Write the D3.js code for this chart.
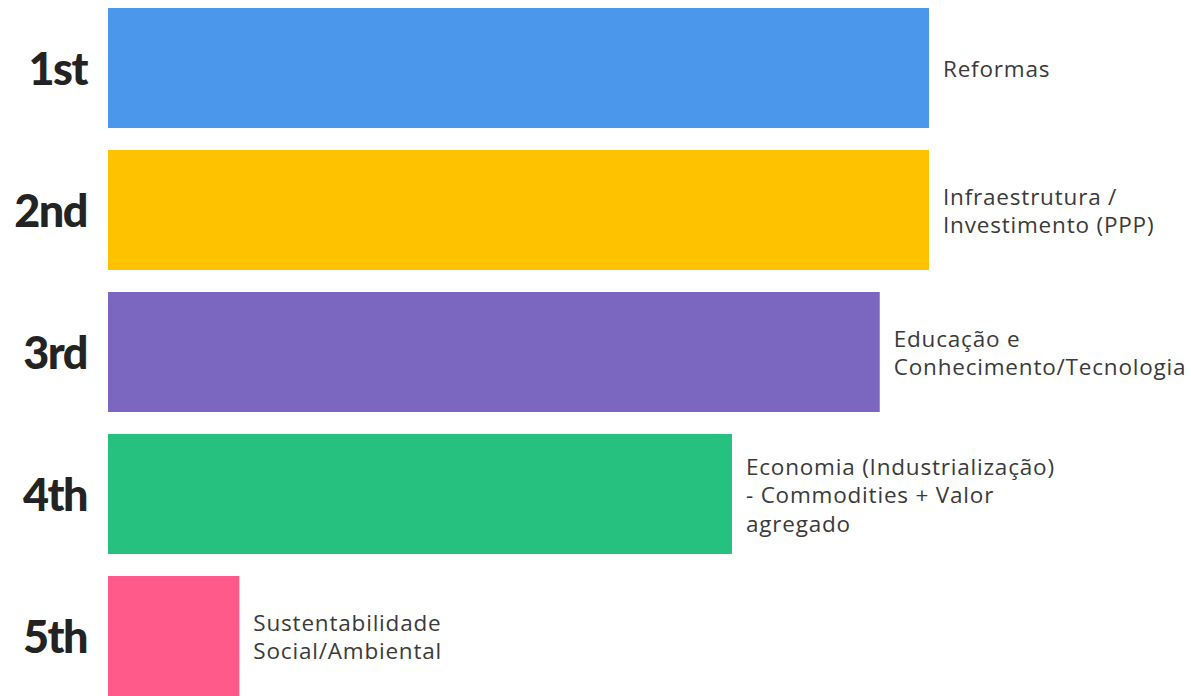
<!DOCTYPE html>
<html>
<head>
<meta charset="utf-8">
<script src="https://cdn.jsdelivr.net/npm/d3@7"></script>
<style>
  html, body { margin: 0; padding: 0; background: #ffffff; }
  svg { display: block; }
</style>
</head>
<body>
<svg id="chart" width="1191" height="696"></svg>
<script>
const ranks = ["1st", "2nd", "3rd", "4th", "5th"];
const categories = [
  "Reformas",
  "Infraestrutura / Investimento (PPP)",
  "Educação e Conhecimento/Tecnologia",
  "Economia (Industrialização) - Commodities + Valor agregado",
  "Sustentabilidade Social/Ambiental"
];
const labelLines = [
  ["Reformas"],
  ["Infraestrutura /", "Investimento (PPP)"],
  ["Educação e", "Conhecimento/Tecnologia"],
  ["Economia (Industrialização)", "- Commodities + Valor", "agregado"],
  ["Sustentabilidade", "Social/Ambiental"]
];
const scores = [100, 100, 94, 76, 16];
const colors = ["#4A97EC", "#FFC200", "#7B67BF", "#26C17F", "#FF5A89"];

const svg = d3.select("#chart");
const x = d3.scaleLinear().domain([0, 100]).range([108, 929]);
const y = d3.scaleBand().domain(ranks).range([8, 696]).paddingInner(22 / 142).paddingOuter(0);

const data = ranks.map((r, i) => ({ rank: r, cat: categories[i], lines: labelLines[i], v: scores[i], c: colors[i] }));

svg.selectAll("rect.bar").data(data).join("rect")
  .attr("class", "bar")
  .attr("x", x(0))
  .attr("y", d => y(d.rank))
  .attr("width", d => x(d.v) - x(0))
  .attr("height", y.bandwidth())
  .attr("fill", d => d.c);

svg.selectAll("text.rank").data(data).join("text")
  .attr("class", "rank")
  .attr("x", 87)
  .attr("y", d => y(d.rank) + y.bandwidth() / 2)
  .attr("dy", "0.38em")
  .attr("text-anchor", "end")
  .attr("font-family", "Lato, sans-serif")
  .attr("font-weight", 900)
  .attr("font-size", 45)
  .attr("letter-spacing", -1.5)
  .attr("fill", "#232323")
  .text(d => d.rank);

const lineH = 28.5;
const lab = svg.selectAll("text.lab").data(data).join("text")
  .attr("class", "lab")
  .attr("font-family", "'Open Sans', sans-serif")
  .attr("font-size", 22.5)
  .attr("letter-spacing", 0.8)
  .attr("fill", "#3a3a3a");
lab.selectAll("tspan").data(d => d.lines.map((t, i) => ({
    t, i,
    x: x(d.v) + 14,
    y: y(d.rank) + y.bandwidth() / 2 - (d.lines.length - 1) * lineH / 2 + i * lineH
  }))).join("tspan")
  .attr("x", d => d.x)
  .attr("y", d => d.y)
  .attr("dy", "0.4em")
  .text(d => d.t);
</script>
</body>
</html>
